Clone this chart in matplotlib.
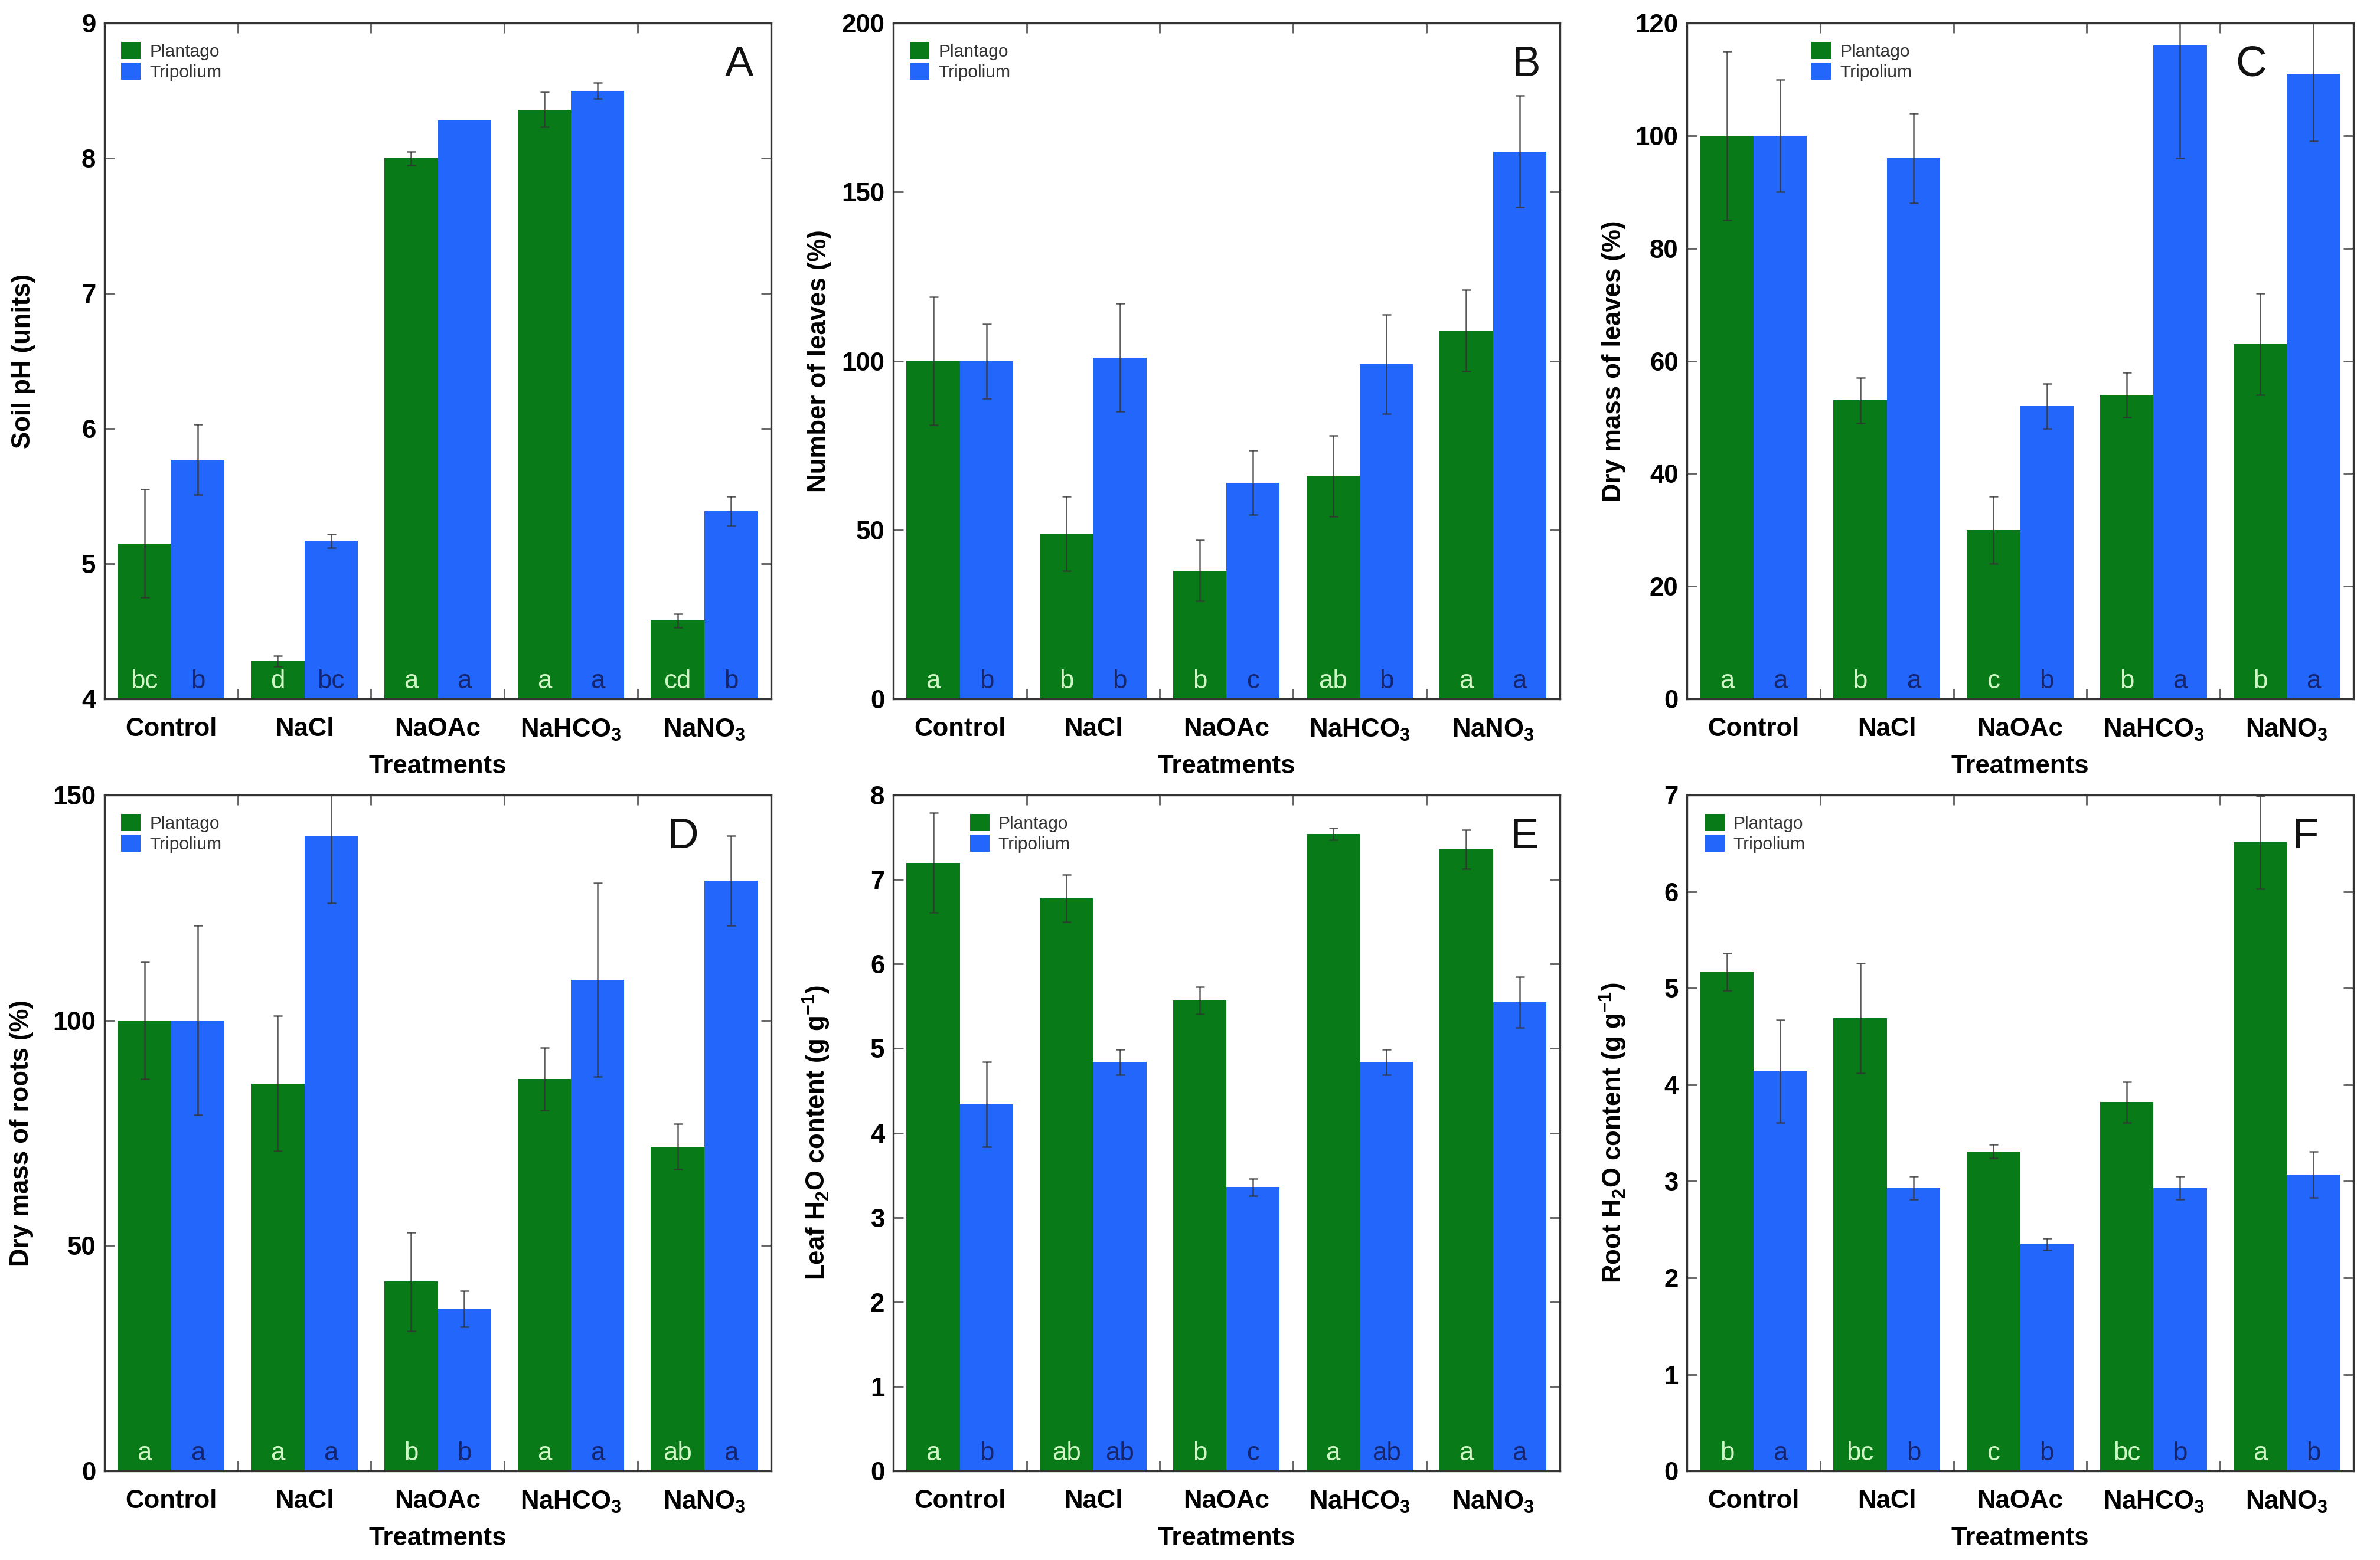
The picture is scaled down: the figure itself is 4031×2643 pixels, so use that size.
import numpy as np
import matplotlib
matplotlib.use("Agg")
import matplotlib.pyplot as plt
from matplotlib.ticker import FixedLocator

plt.rcParams['font.family'] = ['Liberation Sans', 'DejaVu Sans']
plt.rcParams['mathtext.fontset'] = 'custom'
plt.rcParams['mathtext.rm'] = 'Liberation Sans'
plt.rcParams['mathtext.bf'] = 'Liberation Sans:bold'

GREEN = '#087a17'
BLUE = '#2266fb'

treatments = ['Control', 'NaCl', 'NaOAc', r'NaHCO$_\mathbf{3}$', r'NaNO$_\mathbf{3}$']
species = ['Plantago', 'Tripolium']

# A - soil pH
ph_plantago = [5.15, 4.28, 8.00, 8.36, 4.58]
ph_plantago_err = [0.40, 0.04, 0.05, 0.13, 0.05]
ph_tripolium = [5.77, 5.17, 8.28, 8.50, 5.39]
ph_tripolium_err = [0.26, 0.05, np.nan, 0.06, 0.11]
ph_letters_p = ['bc', 'd', 'a', 'a', 'cd']
ph_letters_t = ['b', 'bc', 'a', 'a', 'b']

# B - number of leaves
leaves_plantago = [100, 49, 38, 66, 109]
leaves_plantago_err = [19, 11, 9, 12, 12]
leaves_tripolium = [100, 101, 64, 99, 162]
leaves_tripolium_err = [11, 16, 9.5, 14.7, 16.5]
leaves_letters_p = ['a', 'b', 'b', 'ab', 'a']
leaves_letters_t = ['b', 'b', 'c', 'b', 'a']

# C - dry mass of leaves
dml_plantago = [100, 53, 30, 54, 63]
dml_plantago_err = [15, 4, 6, 4, 9]
dml_tripolium = [100, 96, 52, 116, 111]
dml_tripolium_err = [10, 8, 4, 20, 12]
dml_letters_p = ['a', 'b', 'c', 'b', 'b']
dml_letters_t = ['a', 'a', 'b', 'a', 'a']

# D - dry mass of roots
dmr_plantago = [100, 86, 42, 87, 72]
dmr_plantago_err = [13, 15, 11, 7, 5]
dmr_tripolium = [100, 141, 36, 109, 131]
dmr_tripolium_err = [21, 15, 4, 21.5, 10]
dmr_letters_p = ['a', 'a', 'b', 'a', 'ab']
dmr_letters_t = ['a', 'a', 'b', 'a', 'a']

# E - leaf water content
lw_plantago = [7.20, 6.78, 5.57, 7.54, 7.36]
lw_plantago_err = [0.59, 0.28, 0.16, 0.07, 0.23]
lw_tripolium = [4.34, 4.84, 3.36, 4.84, 5.55]
lw_tripolium_err = [0.50, 0.15, 0.10, 0.15, 0.30]
lw_letters_p = ['a', 'ab', 'b', 'a', 'a']
lw_letters_t = ['b', 'ab', 'c', 'ab', 'a']

# F - root water content
rw_plantago = [5.17, 4.69, 3.31, 3.82, 6.51]
rw_plantago_err = [0.19, 0.57, 0.07, 0.21, 0.48]
rw_tripolium = [4.14, 2.93, 2.35, 2.93, 3.07]
rw_tripolium_err = [0.53, 0.12, 0.06, 0.12, 0.24]
rw_letters_p = ['b', 'bc', 'c', 'bc', 'a']
rw_letters_t = ['a', 'b', 'b', 'b', 'b']

panels = [
    ('A', 'Soil pH (units)', (4, 9), [4, 5, 6, 7, 8, 9],
     ph_plantago, ph_plantago_err, ph_tripolium, ph_tripolium_err, ph_letters_p, ph_letters_t),
    ('B', 'Number of leaves (%)', (0, 200), [0, 50, 100, 150, 200],
     leaves_plantago, leaves_plantago_err, leaves_tripolium, leaves_tripolium_err,
     leaves_letters_p, leaves_letters_t),
    ('C', 'Dry mass of leaves (%)', (0, 120), [0, 20, 40, 60, 80, 100, 120],
     dml_plantago, dml_plantago_err, dml_tripolium, dml_tripolium_err, dml_letters_p, dml_letters_t),
    ('D', 'Dry mass of roots (%)', (0, 150), [0, 50, 100, 150],
     dmr_plantago, dmr_plantago_err, dmr_tripolium, dmr_tripolium_err, dmr_letters_p, dmr_letters_t),
    ('E', r'Leaf H$_\mathbf{2}$O content (g g$^{\mathbf{-1}}$)', (0, 8), list(range(0, 9)),
     lw_plantago, lw_plantago_err, lw_tripolium, lw_tripolium_err, lw_letters_p, lw_letters_t),
    ('F', r'Root H$_\mathbf{2}$O content (g g$^{\mathbf{-1}}$)', (0, 7), list(range(0, 8)),
     rw_plantago, rw_plantago_err, rw_tripolium, rw_tripolium_err, rw_letters_p, rw_letters_t),
]

fig = plt.figure(figsize=(4031 / 300, 2643 / 300), dpi=300)

lefts = [0.0439, 0.3753, 0.7088]
bottoms = [0.552, 0.0571]
w, h = 0.2800, 0.4332
ylab_x = [-0.104, -0.093, -0.091, -0.106, -0.092, -0.088]
legend_x = [0.025, 0.025, 0.187, 0.025, 0.115, 0.027]
tag_x = [0.974, 0.972, 0.87, 0.892, 0.969, 0.948]
x = np.arange(len(treatments))
bw = 0.4
FS = 10.5

for i, (tag, ylab, ylim, yticks, p, pe, t, te, lp, lt) in enumerate(panels):
    ax = fig.add_axes([lefts[i % 3], bottoms[i // 3], w, h])
    err_kw = dict(ecolor='#333333', elinewidth=0.6, capsize=1.8, capthick=0.6, alpha=0.8)
    ax.bar(x - bw, p, bw, align='edge', color=GREEN, yerr=pe, error_kw=err_kw,
           label=species[0], zorder=2)
    ax.bar(x, t, bw, align='edge', color=BLUE, yerr=te, error_kw=err_kw,
           label=species[1], zorder=2)

    # significance letters at the bottom of the bars
    for j in range(len(x)):
        ax.annotate(lp[j], (x[j] - bw / 2, ylim[0]), xytext=(0, 4.4), textcoords='offset points',
                    ha='center', va='baseline', color='#d0f6c6', fontsize=FS,
                    family=['Liberation Sans Narrow', 'Liberation Sans'], zorder=3)
        ax.annotate(lt[j], (x[j] + bw / 2, ylim[0]), xytext=(0, 4.4), textcoords='offset points',
                    ha='center', va='baseline', color='#152570', fontsize=FS,
                    family=['Liberation Sans Narrow', 'Liberation Sans'], zorder=3)

    ax.set_xlim(-0.5, 4.5)
    ax.set_ylim(*ylim)
    ax.set_yticks(yticks)
    ax.set_xticks(x)
    ax.set_xticklabels(treatments, fontweight='bold', fontsize=FS)
    ax.xaxis.set_minor_locator(FixedLocator([0.5, 1.5, 2.5, 3.5]))
    ax.tick_params(axis='x', which='major', length=0, pad=7.5)
    ax.tick_params(axis='x', which='minor', direction='in', length=4, width=0.7,
                   color='#666666', top=True, bottom=True)
    ax.tick_params(axis='y', direction='in', length=4, width=0.7, color='#666666',
                   left=True, right=True, labelsize=FS, pad=3.5)
    for lab in ax.get_yticklabels():
        lab.set_fontweight('bold')
    for s in ax.spines.values():
        s.set_color('#333333')
        s.set_linewidth(0.8)

    ax.set_ylabel(ylab, fontsize=FS, fontweight='bold')
    ax.yaxis.set_label_coords(ylab_x[i], 0.5)
    ax.set_xlabel('Treatments', fontsize=FS, fontweight='bold')
    ax.xaxis.set_label_coords(0.5, -0.082)
    ax.xaxis.label.set_va('top')

    ax.text(tag_x[i], 0.938, tag, transform=ax.transAxes, ha='right', va='center',
            fontsize=17.5, color='#111111')

    ax.legend(loc='upper left', bbox_to_anchor=(legend_x[i], 0.972), frameon=False,
              fontsize=7.2, handlelength=1.1, handleheight=1.1, handletextpad=0.5,
              labelspacing=0.15, borderpad=0, borderaxespad=0, labelcolor='#333333')

fig.savefig('out.png', dpi=300)
